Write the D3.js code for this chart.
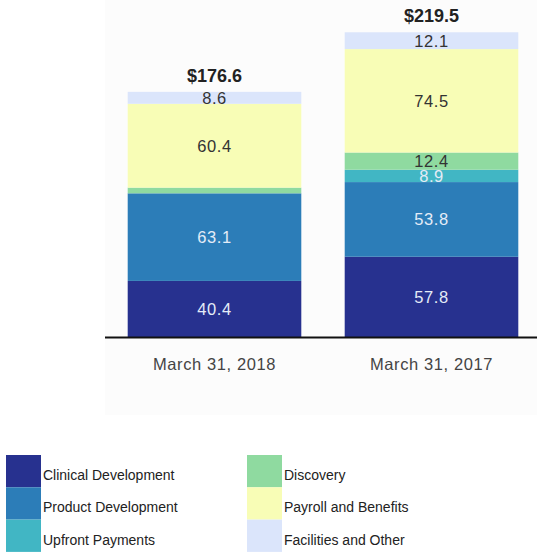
<!DOCTYPE html>
<html>
<head>
<meta charset="utf-8">
<script src="https://cdn.jsdelivr.net/npm/d3@7"></script>
<style>
  body { margin: 0; background: #fff; }
  svg { display: block; font-family: "Liberation Sans", Arial, sans-serif; }
</style>
</head>
<body>
<script>
// data
var periods = ["March 31, 2018", "March 31, 2017"];
var categories = ["Clinical Development", "Product Development", "Upfront Payments",
                  "Discovery", "Payroll and Benefits", "Facilities and Other"];
var clinical   = [40.4, 57.8];
var product    = [63.1, 53.8];
var upfront    = [0, 8.9];
var discovery  = [4.1, 12.4];
var payroll    = [60.4, 74.5];
var facilities = [8.6, 12.1];
var totals     = ["$176.6", "$219.5"];
var colors = ["#27318f", "#2c7db8", "#41b6c4", "#8fdaa0", "#f8fdb6", "#dbe5fb"];
var lightText = [true, true, true, false, false, false];
var showLabel = [[true, true], [true, true], [false, true], [false, true], [true, true], [true, true]];

var width = 537, height = 552;
var series = [clinical, product, upfront, discovery, payroll, facilities];

var rows = periods.map(function(p, i) {
  var r = { period: p };
  categories.forEach(function(c, k) { r[c] = series[k][i]; });
  return r;
});

var stack = d3.stack().keys(categories)(rows);

var svg = d3.select("body").append("svg")
  .attr("width", width)
  .attr("height", height);

// faint plot background
svg.append("rect")
  .attr("x", 105).attr("y", 0)
  .attr("width", width - 105).attr("height", 415)
  .attr("fill", "#fcfcfc");

var x = d3.scaleBand().domain(periods).range([106, 540]).paddingInner(0.2).paddingOuter(0.1);
var y = d3.scaleLinear().domain([0, 220]).range([337, 31.6]);

var layer = svg.append("g").selectAll("g")
  .data(stack)
  .join("g")
    .attr("fill", function(d, k) { return colors[k]; });

layer.selectAll("rect")
  .data(function(d) { return d; })
  .join("rect")
    .attr("x", function(d) { return x(d.data.period); })
    .attr("y", function(d) { return y(d[1]); })
    .attr("width", x.bandwidth())
    .attr("height", function(d) { return y(d[0]) - y(d[1]); });

// segment values
layer.each(function(s, k) {
  d3.select(this).selectAll("text")
    .data(s.filter(function(d, i) { return showLabel[k][i]; }))
    .join("text")
      .attr("x", function(d) { return x(d.data.period) + x.bandwidth() / 2; })
      .attr("y", function(d) { return (y(d[0]) + y(d[1])) / 2; })
      .attr("dy", "0.36em")
      .attr("text-anchor", "middle")
      .attr("font-size", 16.5)
      .attr("letter-spacing", 0.6)
      .attr("fill", lightText[k] ? "#e4ecf7" : "#333")
      .text(function(d) { return (d[1] - d[0]).toFixed(1); });
});

// totals
svg.append("g").selectAll("text")
  .data(rows)
  .join("text")
    .attr("x", function(d) { return x(d.period) + x.bandwidth() / 2; })
    .attr("y", function(d, i) { return y(stack[stack.length - 1][i][1]) - 10; })
    .attr("text-anchor", "middle")
    .attr("font-size", 18)
    .attr("font-weight", "bold")
    .attr("fill", "#222")
    .text(function(d, i) { return totals[i]; });

// baseline and category labels
var xAxis = svg.append("g")
  .attr("transform", "translate(0," + y(0) + ")")
  .call(d3.axisBottom(x).tickSize(0).tickPadding(21));
xAxis.select(".domain").attr("d", "M105,0.5H537").attr("stroke", "#111").attr("stroke-width", 2);
xAxis.selectAll("text")
  .attr("font-size", 16.5)
  .attr("letter-spacing", 0.6)
  .attr("font-family", "\"Liberation Sans\", Arial, sans-serif")
  .attr("fill", "#444");

// legend
var legend = svg.append("g").selectAll("g")
  .data(categories)
  .join("g")
    .attr("transform", function(d, k) {
      return "translate(" + (k < 3 ? 6 : 247) + "," + (455 + (k % 3) * 32.3) + ")";
    });

legend.append("rect")
  .attr("width", 35)
  .attr("height", 32.3)
  .attr("fill", function(d, k) { return colors[k]; });

legend.append("text")
  .attr("x", 37)
  .attr("y", 25)
  .attr("font-size", 14)
  .attr("fill", "#222")
  .text(function(d) { return d; });
</script>
</body>
</html>
